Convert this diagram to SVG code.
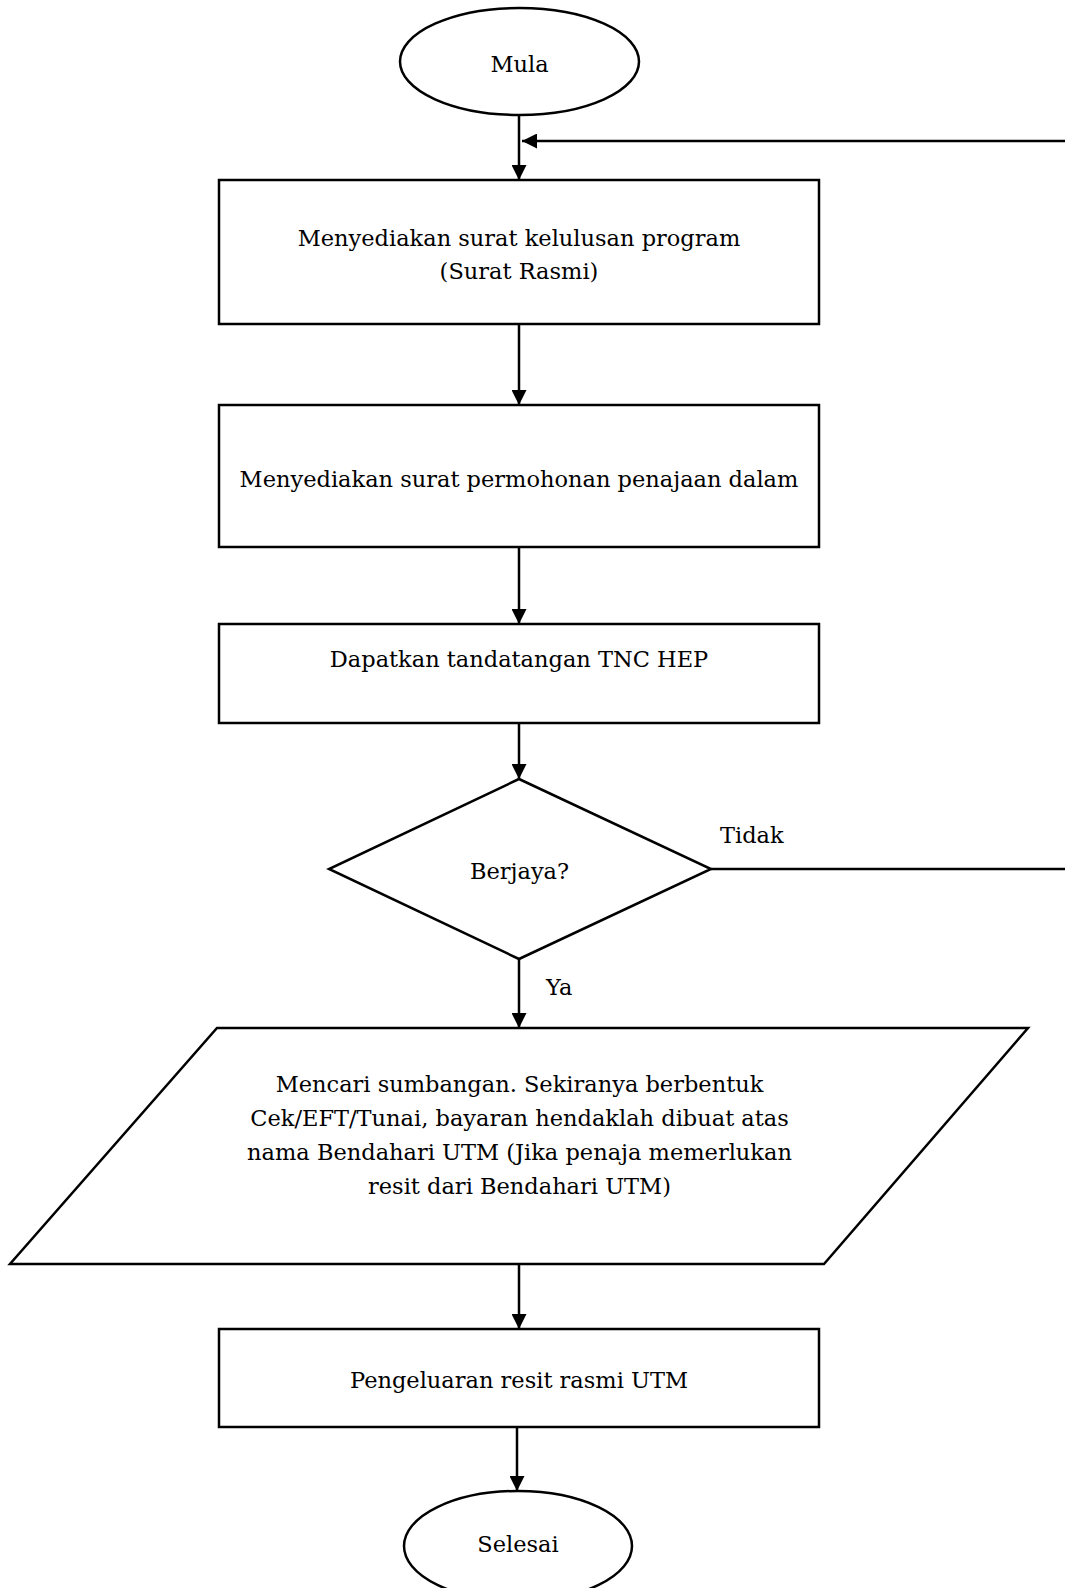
<svg xmlns="http://www.w3.org/2000/svg" width="1065" height="1588" viewBox="0 0 1065 1588">
  <style>
    .shape { fill: #ffffff; stroke: #000000; stroke-width: 2.5; }
    .line { fill: none; stroke: #000000; stroke-width: 2.5; }
    .label { font-family: "DejaVu Serif", "Liberation Serif", serif; font-size: 22.5px; fill: #000000; }
    .mid { text-anchor: middle; }
  </style>
  <defs>
    <marker id="arrow" viewBox="0 0 10 10" refX="10" refY="5" markerWidth="6" markerHeight="6" markerUnits="strokeWidth" orient="auto">
      <path d="M0,0 L10,5 L0,10 Z" fill="#000000"/>
    </marker>
  </defs>

  <rect width="1065" height="1588" fill="#ffffff"/>

  <!-- connectors -->
  <g id="connectors">
    <line class="line" x1="519" y1="115" x2="519" y2="180" marker-end="url(#arrow)"/>
    <line class="line" x1="1065" y1="141" x2="522" y2="141" marker-end="url(#arrow)"/>
    <line class="line" x1="519" y1="324" x2="519" y2="405" marker-end="url(#arrow)"/>
    <line class="line" x1="519" y1="547" x2="519" y2="624" marker-end="url(#arrow)"/>
    <line class="line" x1="519" y1="723" x2="519" y2="779" marker-end="url(#arrow)"/>
    <line class="line" x1="711" y1="869" x2="1065" y2="869"/>
    <line class="line" x1="519" y1="959" x2="519" y2="1028" marker-end="url(#arrow)"/>
    <line class="line" x1="519" y1="1264" x2="519" y2="1329" marker-end="url(#arrow)"/>
    <line class="line" x1="517" y1="1427" x2="517" y2="1491" marker-end="url(#arrow)"/>
    <text class="label" x="720" y="843">Tidak</text>
    <text class="label" x="546" y="995">Ya</text>
  </g>

  <!-- start -->
  <g id="mula">
    <ellipse class="shape" cx="519.5" cy="61.5" rx="119.5" ry="53.5"/>
    <text class="label mid" x="519.5" y="72">Mula</text>
  </g>

  <g id="surat-kelulusan">
    <rect class="shape" x="219" y="180" width="600" height="144"/>
    <text class="label mid" x="519" y="246">Menyediakan surat kelulusan program</text>
    <text class="label mid" x="519" y="278.5">(Surat Rasmi)</text>
  </g>

  <g id="surat-permohonan">
    <rect class="shape" x="219" y="405" width="600" height="142"/>
    <text class="label mid" x="519" y="487">Menyediakan surat permohonan penajaan dalam</text>
  </g>

  <g id="tandatangan">
    <rect class="shape" x="219" y="624" width="600" height="99"/>
    <text class="label mid" x="519" y="667">Dapatkan tandatangan TNC HEP</text>
  </g>

  <!-- decision -->
  <g id="berjaya">
    <polygon class="shape" points="519,779 711,869 519,959 329,869"/>
    <text class="label mid" x="519.5" y="879">Berjaya?</text>
  </g>

  <g id="sumbangan">
    <polygon class="shape" points="217,1028 1028,1028 824,1264 10,1264"/>
    <text class="label mid" x="519.5" y="1092">Mencari sumbangan. Sekiranya berbentuk</text>
    <text class="label mid" x="519.5" y="1126">Cek/EFT/Tunai, bayaran hendaklah dibuat atas</text>
    <text class="label mid" x="519.5" y="1160">nama Bendahari UTM (Jika penaja memerlukan</text>
    <text class="label mid" x="519.5" y="1194">resit dari Bendahari UTM)</text>
  </g>

  <g id="resit">
    <rect class="shape" x="219" y="1329" width="600" height="98"/>
    <text class="label mid" x="519" y="1388">Pengeluaran resit rasmi UTM</text>
  </g>

  <!-- end -->
  <g id="selesai">
    <ellipse class="shape" cx="518" cy="1546" rx="114" ry="55"/>
    <text class="label mid" x="518" y="1552">Selesai</text>
  </g>
</svg>
